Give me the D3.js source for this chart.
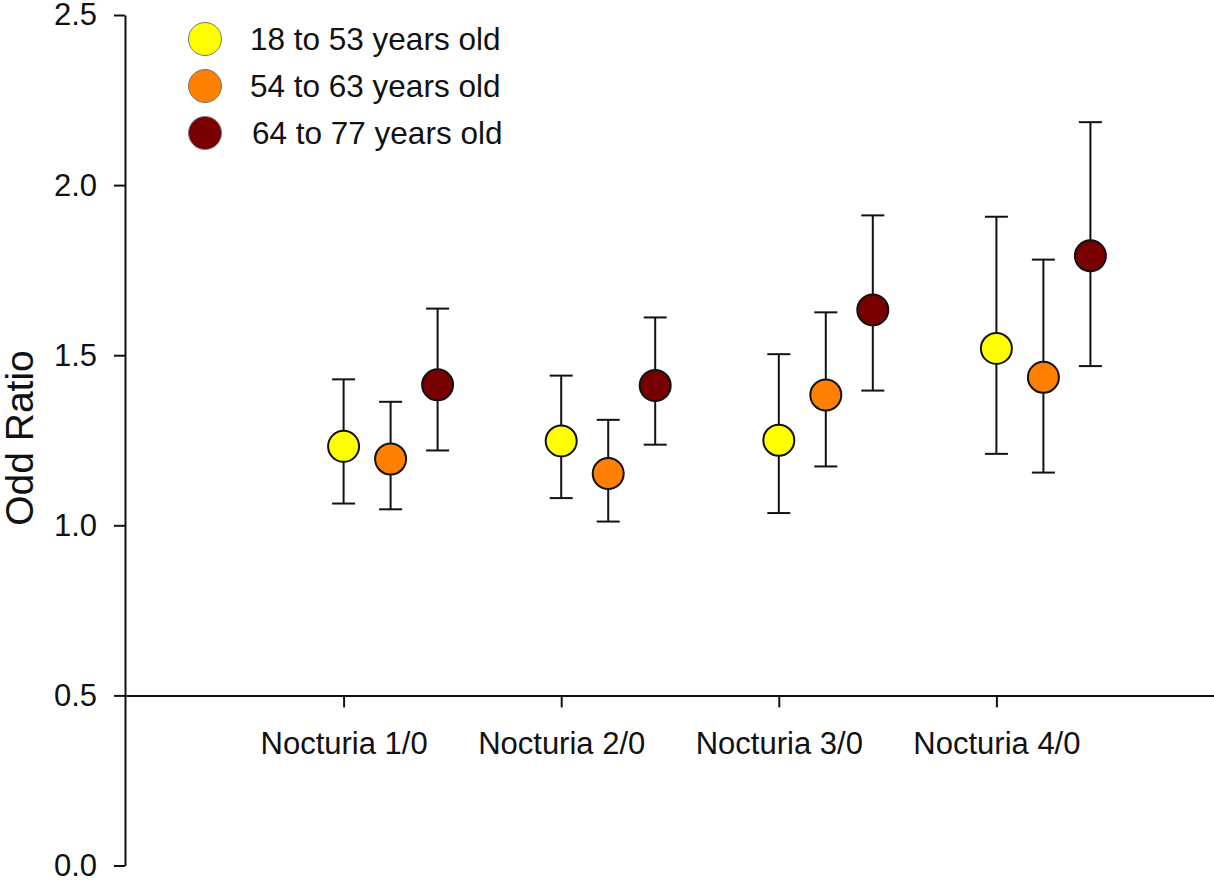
<!DOCTYPE html>
<html>
<head>
<meta charset="utf-8">
<script src="https://cdn.jsdelivr.net/npm/d3@7"></script>
<style>
  html, body { margin: 0; padding: 0; background: #fff; }
  svg { display: block; font-family: "Liberation Sans", Arial, sans-serif; }
</style>
</head>
<body>
<svg id="chart" width="1214" height="883"></svg>
<script>
// ---- data ----
const categories = ["Nocturia 1/0", "Nocturia 2/0", "Nocturia 3/0", "Nocturia 4/0"];
const seriesNames = ["18 to 53 years old", "54 to 63 years old", "64 to 77 years old"];
const seriesColors = ["#FFFF00", "#FF8000", "#780000"];

const or18to53   = [1.232, 1.248, 1.250, 1.520];
const low18to53  = [1.064, 1.080, 1.036, 1.210];
const high18to53 = [1.429, 1.440, 1.503, 1.907];

const or54to63   = [1.195, 1.152, 1.383, 1.435];
const low54to63  = [1.047, 1.011, 1.173, 1.155];
const high54to63 = [1.363, 1.310, 1.626, 1.781];

const or64to77   = [1.413, 1.411, 1.633, 1.792];
const low64to77  = [1.220, 1.237, 1.396, 1.468];
const high64to77 = [1.637, 1.611, 1.911, 2.185];

const yTicks = [0.0, 0.5, 1.0, 1.5, 2.0, 2.5];
const yTitle = "Odd Ratio";

// build table from arrays
const seriesValues = [
  { or: or18to53, low: low18to53, high: high18to53 },
  { or: or54to63, low: low54to63, high: high54to63 },
  { or: or64to77, low: low64to77, high: high64to77 }
];
const points = [];
seriesNames.forEach((s, si) => {
  categories.forEach((c, ci) => {
    points.push({ series: s, color: seriesColors[si], cat: c,
      or: seriesValues[si].or[ci], low: seriesValues[si].low[ci], high: seriesValues[si].high[ci] });
  });
});

// ---- layout ----
const svg = d3.select("#chart");
const axisX0 = 125, axisXEnd = 1214;
const y = d3.scaleLinear().domain([0, 2.5]).range([865.5, 15]);
const x = d3.scalePoint().domain(categories).range([axisX0 + 1, axisXEnd]).padding(1);
const xOff = d3.scalePoint().domain(seriesNames).range([0, 94]);

// Y axis
const yAxis = d3.axisLeft(y).tickValues(yTicks).tickFormat(d3.format(".1f"))
  .tickSize(11).tickSizeOuter(0).tickPadding(17);
const gy = svg.append("g").attr("transform", `translate(${axisX0},0)`).call(yAxis);
gy.select(".domain").attr("stroke", "#111").attr("stroke-width", 2);
gy.selectAll(".tick line").attr("stroke", "#111").attr("stroke-width", 2);
gy.selectAll(".tick text").attr("font-size", 31).attr("fill", "#111")
  .attr("font-family", '"Liberation Sans", Arial, sans-serif');

// X axis at y = 0.5
const xAxis = d3.axisBottom(x).tickSize(12).tickSizeOuter(0).tickPadding(25);
const gx = svg.append("g").attr("transform", `translate(0,${y(0.5)})`).call(xAxis);
gx.select(".domain").attr("stroke", "#111").attr("stroke-width", 2);
gx.selectAll(".tick line").attr("stroke", "#111").attr("stroke-width", 2);
gx.selectAll(".tick text").attr("font-size", 31).attr("fill", "#111")
  .attr("font-family", '"Liberation Sans", Arial, sans-serif');

// Y title
svg.append("text")
  .attr("transform", `translate(33,${438}) rotate(-90)`)
  .attr("text-anchor", "middle")
  .attr("font-size", 39)
  .attr("fill", "#111")
  .text(yTitle);

// error bars
const capHalf = 11.5;
const eb = svg.append("g").attr("stroke", "#111").attr("stroke-width", 2).attr("fill", "none");
points.forEach(p => {
  const cx = x(p.cat) + xOff(p.series);
  eb.append("line").attr("x1", cx).attr("x2", cx).attr("y1", y(p.low)).attr("y2", y(p.high));
  eb.append("line").attr("x1", cx - capHalf).attr("x2", cx + capHalf).attr("y1", y(p.high)).attr("y2", y(p.high));
  eb.append("line").attr("x1", cx - capHalf).attr("x2", cx + capHalf).attr("y1", y(p.low)).attr("y2", y(p.low));
});

// markers
svg.append("g").selectAll("circle").data(points).join("circle")
  .attr("cx", d => x(d.cat) + xOff(d.series))
  .attr("cy", d => y(d.or))
  .attr("r", 15.5)
  .attr("fill", d => d.color)
  .attr("stroke", "#111")
  .attr("stroke-width", 2);

// legend
const legendY = [39, 86, 133];
const lg = svg.append("g");
seriesNames.forEach((s, i) => {
  lg.append("circle").attr("cx", 205).attr("cy", legendY[i]).attr("r", 16.5)
    .attr("fill", seriesColors[i]).attr("stroke", "#777").attr("stroke-width", 1);
  lg.append("text").attr("x", i === 2 ? 252 : 250).attr("y", legendY[i] + 11)
    .attr("font-size", 31.5).attr("fill", "#111").text(s);
});
</script>
</body>
</html>
